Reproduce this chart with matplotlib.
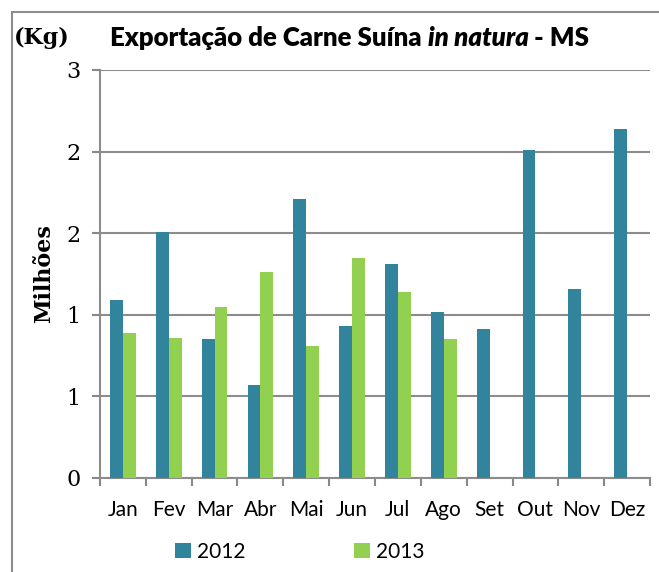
import matplotlib.pyplot as plt
import numpy as np
from matplotlib.patches import Rectangle

meses = ["Jan", "Fev", "Mar", "Abr", "Mai", "Jun", "Jul", "Ago", "Set", "Out", "Nov", "Dez"]
v2012 = [1.09, 1.51, 0.85, 0.57, 1.71, 0.93, 1.31, 1.02, 0.91, 2.01, 1.16, 2.14]
v2013 = [0.89, 0.86, 1.05, 1.26, 0.81, 1.35, 1.14, 0.85]
yticks = [0, 0.5, 1.0, 1.5, 2.0, 2.5]
ylabels = ["0", "1", "1", "2", "2", "3"]

cor2012 = "#31849B"
cor2013 = "#92D050"

fig = plt.figure(figsize=(6.59, 5.72), dpi=100)
ax = fig.add_axes([100 / 659, 1 - 478 / 572, 550 / 659, 408 / 572])

x = np.arange(len(meses))
w = 0.28
ax.bar(x[:len(v2012)] - w / 2, v2012, w, color=cor2012, zorder=3, label="2012")
ax.bar(x[:len(v2013)] + w / 2, v2013, w, color=cor2013, zorder=3, label="2013")

ax.set_xlim(-0.5, 11.5)
ax.set_ylim(0, 2.5)
ax.set_yticks(yticks)
ax.set_yticklabels(ylabels, fontfamily="DejaVu Serif", fontsize=16)
ax.set_xticks(np.arange(-0.5, 12, 1))
ax.set_xticklabels([])
ax.set_xticks(x, minor=True)
ax.set_xticklabels(meses, minor=True, fontfamily="Lato", fontsize=15)
ax.tick_params(axis="x", which="minor", length=0, pad=16)
ax.tick_params(axis="x", which="major", length=6, color="#888888", width=1.5)
ax.tick_params(axis="y", length=6, color="#888888", width=1.5, pad=8)
ax.grid(axis="y", color="#8c8c8c", linewidth=1.5, zorder=0)
for s in ["top", "right"]:
    ax.spines[s].set_visible(False)
for s in ["left", "bottom"]:
    ax.spines[s].set_color("#8c8c8c")
    ax.spines[s].set_linewidth(1.5)

ax.set_ylabel("Milhões", fontfamily="DejaVu Serif", fontweight="bold", fontsize=16, labelpad=8)

fig.text(14 / 659, 1 - 38 / 572, "(Kg)", fontfamily="DejaVu Serif", fontweight="bold",
         fontsize=16, va="center")
fig.text(110 / 659, 1 - 38 / 572, "Exportação de Carne Suína ", fontfamily="Lato",
         fontweight="heavy", fontsize=18.5, va="center")

leg = fig.legend(loc="center", bbox_to_anchor=(300 / 659, 1 - 552 / 572), ncol=2,
                 frameon=False, prop={"family": "Lato", "size": 15},
                 handlelength=0.75, handleheight=0.75, columnspacing=5.2, handletextpad=0.3)

fig.patches.append(Rectangle((12 / 659, -0.1), 1.2, 1 - 12 / 572 + 0.1,
                             transform=fig.transFigure, fill=False,
                             edgecolor="#8c8c8c", linewidth=1.5))

# título com parte em itálico
fig.canvas.draw()
r = fig.canvas.get_renderer()
t1 = fig.texts[1]
bb = t1.get_window_extent(r)
x2 = bb.x1 / fig.bbox.width
t2 = fig.text(x2, 1 - 38 / 572, "in natura", fontfamily="Lato", fontweight="heavy",
              style="italic", fontsize=18.5, va="center")
bb2 = t2.get_window_extent(r)
fig.text(bb2.x1 / fig.bbox.width, 1 - 38 / 572, " - MS", fontfamily="Lato",
         fontweight="heavy", fontsize=18.5, va="center")

fig.savefig("out.png", dpi=100)
